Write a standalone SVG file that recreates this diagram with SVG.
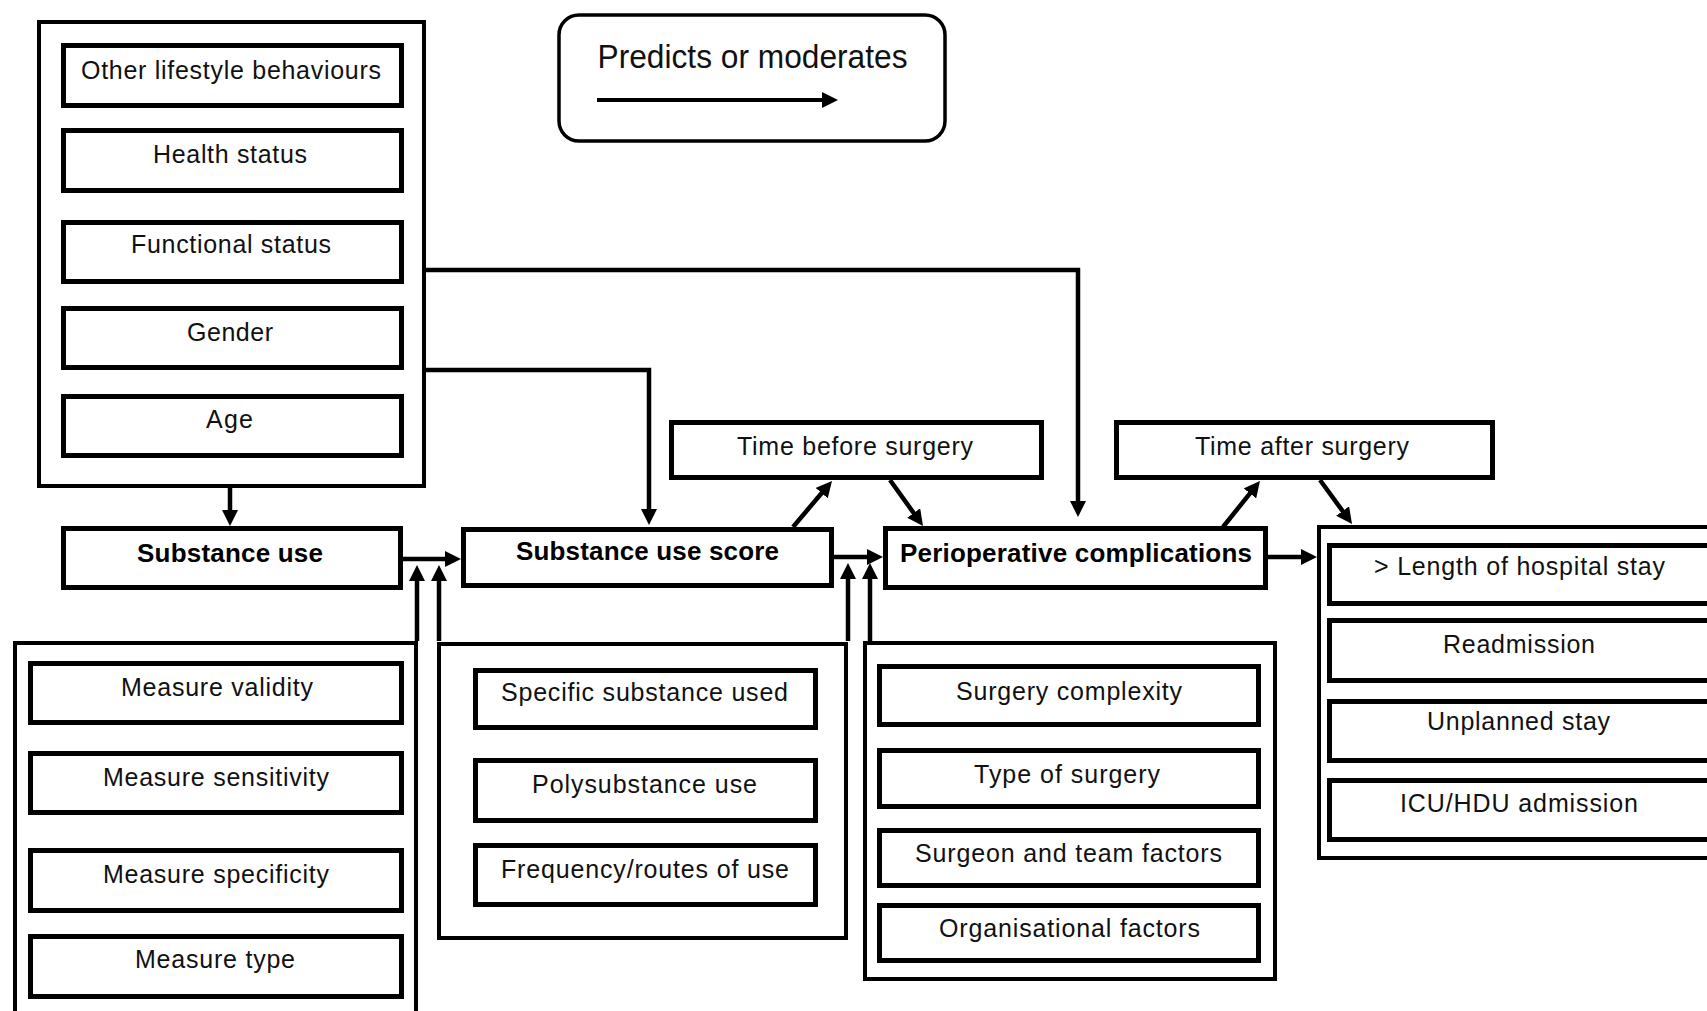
<svg xmlns="http://www.w3.org/2000/svg" width="1707" height="1011" viewBox="0 0 1707 1011">
  <style>
    .outer { fill: #fff; stroke: #000; stroke-width: 4; }
    .box { fill: #fff; stroke: #000; stroke-width: 5; }
    .t { font-family: "Liberation Sans", Arial, sans-serif; font-size: 25px; fill: #111; text-anchor: middle; }
    .b { font-family: "Liberation Sans", Arial, sans-serif; font-size: 26px; font-weight: bold; fill: #000; text-anchor: middle; }
    .lg { font-family: "Liberation Sans", Arial, sans-serif; font-size: 33px; fill: #111; text-anchor: middle; }
    .conn { fill: none; stroke: #000; stroke-width: 4.5; marker-end: url(#head); }
  </style>
  <defs>
    <marker id="head" viewBox="0 0 16 16" markerWidth="16" markerHeight="16" refX="10" refY="8" markerUnits="userSpaceOnUse" orient="auto">
      <path d="M0,0 L16,8 L0,16 z" fill="#000"/>
    </marker>
  </defs>
  <rect width="1707" height="1011" fill="#fff"/>

  <!-- legend -->
  <g id="legend">
    <rect x="559" y="15" width="386" height="126" rx="20" ry="20" fill="#fff" stroke="#000" stroke-width="3.5"/>
    <text class="lg" x="752.5" y="68" textLength="310" lengthAdjust="spacingAndGlyphs">Predicts or moderates</text>
    <path d="M597,100 H832" fill="none" stroke="#000" stroke-width="4" marker-end="url(#head)"/>
  </g>

  <!-- patient characteristics -->
  <g id="patient-factors">
    <rect class="outer" x="39" y="22" width="385" height="464"/>
    <rect class="box" x="63.5" y="45.5" width="338" height="60"/>
    <text class="t" x="231" y="79" textLength="300">Other lifestyle behaviours</text>
    <rect class="box" x="63.5" y="130.5" width="338" height="60"/>
    <text class="t" x="230" y="163" textLength="154">Health status</text>
    <rect class="box" x="63.5" y="222.5" width="338" height="59"/>
    <text class="t" x="231" y="253" textLength="200">Functional status</text>
    <rect class="box" x="63.5" y="308.5" width="338" height="59"/>
    <text class="t" x="230" y="341" textLength="86">Gender</text>
    <rect class="box" x="63.5" y="396.5" width="338" height="59"/>
    <text class="t" x="229.5" y="428" textLength="47">Age</text>
  </g>

  <g id="substance-use">
    <rect class="box" x="63.5" y="528.5" width="337" height="59"/>
    <text class="b" x="230" y="562" textLength="186">Substance use</text>
  </g>

  <g id="substance-use-score">
    <rect class="box" x="463.5" y="529.5" width="368" height="56"/>
    <text class="b" x="647.5" y="560" textLength="263">Substance use score</text>
  </g>

  <g id="perioperative-complications">
    <rect class="box" x="885.5" y="528.5" width="380" height="59"/>
    <text class="b" x="1076" y="562" textLength="352">Perioperative complications</text>
  </g>

  <g id="time-before-surgery">
    <rect class="box" x="671.5" y="422.5" width="370" height="55"/>
    <text class="t" x="855" y="455" textLength="236">Time before surgery</text>
  </g>

  <g id="time-after-surgery">
    <rect class="box" x="1116.5" y="422.5" width="376" height="55"/>
    <text class="t" x="1302" y="455" textLength="214">Time after surgery</text>
  </g>

  <!-- outcomes -->
  <g id="outcomes">
    <rect class="outer" x="1319" y="527" width="400" height="331"/>
    <rect class="box" x="1329.5" y="545.5" width="390" height="58"/>
    <text class="t" x="1519.5" y="575" textLength="291">&gt; Length of hospital stay</text>
    <rect class="box" x="1329.5" y="620.5" width="390" height="60"/>
    <text class="t" x="1519" y="653" textLength="152">Readmission</text>
    <rect class="box" x="1329.5" y="701.5" width="390" height="59"/>
    <text class="t" x="1518.5" y="730" textLength="183">Unplanned stay</text>
    <rect class="box" x="1329.5" y="780.5" width="390" height="59"/>
    <text class="t" x="1519" y="812" textLength="238">ICU/HDU admission</text>
  </g>

  <!-- measurement factors -->
  <g id="measure-factors">
    <rect class="outer" x="15" y="643" width="401" height="400"/>
    <rect class="box" x="30.5" y="663.5" width="371" height="59"/>
    <text class="t" x="217" y="696" textLength="192">Measure validity</text>
    <rect class="box" x="30.5" y="753.5" width="371" height="59"/>
    <text class="t" x="216" y="786" textLength="226">Measure sensitivity</text>
    <rect class="box" x="30.5" y="850.5" width="371" height="60"/>
    <text class="t" x="216" y="883" textLength="226">Measure specificity</text>
    <rect class="box" x="30.5" y="936.5" width="371" height="60"/>
    <text class="t" x="215" y="968" textLength="160">Measure type</text>
  </g>

  <!-- substance factors -->
  <g id="substance-factors">
    <rect class="outer" x="439" y="644" width="407" height="294"/>
    <rect class="box" x="475.5" y="670.5" width="340" height="57"/>
    <text class="t" x="644.5" y="701" textLength="287">Specific substance used</text>
    <rect class="box" x="475.5" y="760.5" width="340" height="60"/>
    <text class="t" x="644.5" y="793" textLength="225">Polysubstance use</text>
    <rect class="box" x="475.5" y="845.5" width="340" height="59"/>
    <text class="t" x="645" y="878" textLength="288">Frequency/routes of use</text>
  </g>

  <!-- surgical factors -->
  <g id="surgical-factors">
    <rect class="outer" x="865" y="643" width="410" height="336"/>
    <rect class="box" x="879.5" y="666.5" width="379" height="58"/>
    <text class="t" x="1069" y="700" textLength="226">Surgery complexity</text>
    <rect class="box" x="879.5" y="750.5" width="379" height="56"/>
    <text class="t" x="1067" y="783" textLength="186">Type of surgery</text>
    <rect class="box" x="879.5" y="830.5" width="379" height="55"/>
    <text class="t" x="1068.5" y="862" textLength="307">Surgeon and team factors</text>
    <rect class="box" x="879.5" y="905.5" width="379" height="55"/>
    <text class="t" x="1069.5" y="937" textLength="261">Organisational factors</text>
  </g>

  <!-- connectors -->
  <g id="connectors">
    <path class="conn" d="M426,270 H1078 V511"/>
    <path class="conn" d="M426,370 H649 V519"/>
    <path class="conn" d="M230,488 V520"/>
    <path class="conn" d="M403,559 H455"/>
    <path class="conn" d="M834,557 H877"/>
    <path class="conn" d="M1268,557 H1311"/>
    <path class="conn" d="M417,641 V571"/>
    <path class="conn" d="M439,641 V571"/>
    <path class="conn" d="M848,641 V569"/>
    <path class="conn" d="M870,641 V569"/>
    <path class="conn" d="M793,527 L828.1,485.5"/>
    <path class="conn" d="M890,480 L919.5,521.1"/>
    <path class="conn" d="M1223,527 L1256.2,485.6"/>
    <path class="conn" d="M1320,480 L1348.5,519.1"/>
  </g>
</svg>
